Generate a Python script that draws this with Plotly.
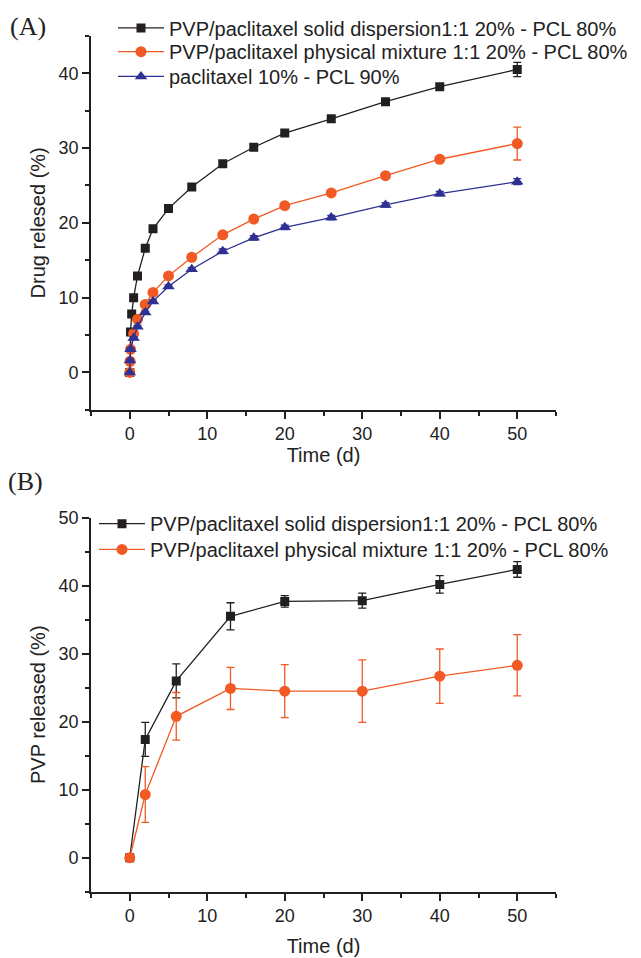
import plotly.graph_objects as go

# (A) rilascio del farmaco
t_solid_a = [0, 0.1, 0.25, 0.5, 1, 2, 3, 5, 8, 12, 16, 20, 26, 33, 40, 50]
y_solid_a = [0, 5.4, 7.8, 10.0, 12.9, 16.6, 19.2, 21.9, 24.8, 27.9, 30.1, 32.0, 33.9, 36.2, 38.2, 40.5]
e_solid_a = [0, 0.2, 0.2, 0.2, 0.2, 0.3, 0.3, 0.3, 0.3, 0.3, 0.3, 0.3, 0.4, 0.4, 0.4, 0.95]

t_phys_a = [0, 0.04, 0.1, 0.5, 1, 2, 3, 5, 8, 12, 16, 20, 26, 33, 40, 50]
y_phys_a = [0, 1.5, 3.1, 5.2, 7.1, 9.1, 10.7, 12.9, 15.4, 18.4, 20.5, 22.3, 24.0, 26.3, 28.5, 30.6]
e_phys_a = [0, 0.2, 0.3, 0.4, 0.3, 0.3, 0.3, 0.3, 0.3, 0.3, 0.3, 0.3, 0.3, 0.3, 0.3, 2.2]

t_ptx_a = [0, 0.04, 0.1, 0.5, 1, 2, 3, 5, 8, 12, 16, 20, 26, 33, 40, 50]
y_ptx_a = [0, 1.6, 3.1, 4.6, 6.1, 8.0, 9.5, 11.5, 13.8, 16.2, 18.0, 19.4, 20.7, 22.4, 23.9, 25.5]
e_ptx_a = [0, 0.2, 0.2, 0.2, 0.2, 0.2, 0.2, 0.2, 0.2, 0.3, 0.3, 0.3, 0.3, 0.3, 0.3, 0.4]

# (B) rilascio del PVP
t_b = [0, 2, 6, 13, 20, 30, 40, 50]
y_solid_b = [0, 17.4, 26.0, 35.5, 37.7, 37.8, 40.2, 42.4]
e_solid_b = [0, 2.5, 2.5, 2.0, 0.85, 1.1, 1.3, 1.15]
y_phys_b = [0, 9.3, 20.8, 24.9, 24.5, 24.5, 26.7, 28.3]
e_phys_b = [0, 4.1, 3.5, 3.1, 3.9, 4.6, 4.0, 4.5]

NAME_SOLID = "PVP/paclitaxel solid dispersion1:1 20% - PCL 80%"
NAME_PHYS = "PVP/paclitaxel physical mixture 1:1 20% - PCL 80%"
NAME_PTX = "paclitaxel 10% - PCL 90%"

BLACK = "#231F20"
ORANGE = "#F15A24"
BLUE = "#2E3192"
FONT = "Arial, Liberation Sans, sans-serif"
SERIF = "Liberation Serif, Times New Roman, serif"

W, H = 641, 958
OFF_X, OFF_Y = 8, 10  # scostamento della pagina


def px_x(px):
    return (px - OFF_X) / W


def px_y(py):
    return 1 - (py - OFF_Y) / H


def serie(x, y, err, name, color, symbol, size, xa, ya, legend):
    return go.Scatter(
        x=x, y=y, name=name, mode="lines+markers", xaxis=xa, yaxis=ya, legend=legend,
        line=dict(color=color, width=1.3),
        marker=dict(color=color, symbol=symbol, size=size),
        error_y=dict(type="data", array=err, color=color, thickness=1.3, width=4),
    )


fig = go.Figure()
fig.add_trace(serie(t_solid_a, y_solid_a, e_solid_a, NAME_SOLID, BLACK, "square", 9, "x", "y", "legend2"))
fig.add_trace(serie(t_phys_a, y_phys_a, e_phys_a, NAME_PHYS, ORANGE, "circle", 11, "x", "y", "legend3"))
fig.add_trace(serie(t_ptx_a, y_ptx_a, e_ptx_a, NAME_PTX, BLUE, "triangle-up", 11, "x", "y", "legend4"))
fig.add_trace(serie(t_b, y_solid_b, e_solid_b, NAME_SOLID, BLACK, "square", 9, "x2", "y2", "legend5"))
fig.add_trace(serie(t_b, y_phys_b, e_phys_b, NAME_PHYS, ORANGE, "circle", 11, "x2", "y2", "legend6"))

axis_style = dict(
    showline=True, linecolor=BLACK, linewidth=1.6, mirror=False, showgrid=False, zeroline=False,
    ticks="outside", ticklen=7, tickwidth=1.5, tickcolor=BLACK, automargin=False,
    tickfont=dict(size=18, color="#222", family=FONT),
    minor=dict(ticks="outside", ticklen=4, tickwidth=1.5, tickcolor=BLACK, dtick=5),
)

legend_style = dict(
    xanchor="left", yanchor="middle", bgcolor="rgba(0,0,0,0)",
    font=dict(size=20, color="#222", family=FONT), itemwidth=46,
)

xdom = [px_x(91), px_x(556)]

fig.update_layout(
    width=W, height=H, plot_bgcolor="white", paper_bgcolor="white",
    margin=dict(l=0, r=0, t=0, b=0), font=dict(family=FONT, color="#222"),
    xaxis=dict(axis_style, range=[-5, 55], dtick=10, tick0=0, anchor="y", domain=xdom,
               title=dict(text="Time (d)", font=dict(size=20), standoff=3)),
    yaxis=dict(axis_style, range=[-5, 45], dtick=10, tick0=0, anchor="x",
               domain=[px_y(406), px_y(28)],
               title=dict(text="Drug relesed (%)", font=dict(size=20), standoff=8)),
    xaxis2=dict(axis_style, range=[-5, 55], dtick=10, tick0=0, anchor="y2", domain=xdom,
                title=dict(text="Time (d)", font=dict(size=20), standoff=14)),
    yaxis2=dict(axis_style, range=[-5, 50], dtick=10, tick0=0, anchor="x2",
                domain=[px_y(893), px_y(515)],
                title=dict(text="PVP released (%)", font=dict(size=20), standoff=8)),
    showlegend=True,
    legend2=dict(legend_style, x=px_x(113), y=px_y(20)),
    legend3=dict(legend_style, x=px_x(113), y=px_y(44)),
    legend4=dict(legend_style, x=px_x(113), y=px_y(69)),
    legend5=dict(legend_style, x=px_x(94), y=px_y(521)),
    legend6=dict(legend_style, x=px_x(94), y=px_y(547)),
    annotations=[
        dict(text="(A)", xref="paper", yref="paper", x=px_x(8), y=px_y(19), xanchor="left",
             yanchor="middle", showarrow=False, font=dict(family=SERIF, size=26, color="#222")),
        dict(text="(B)", xref="paper", yref="paper", x=px_x(6), y=px_y(478), xanchor="left",
             yanchor="middle", showarrow=False, font=dict(family=SERIF, size=26, color="#222")),
    ],
)

fig.write_html("out.html")
